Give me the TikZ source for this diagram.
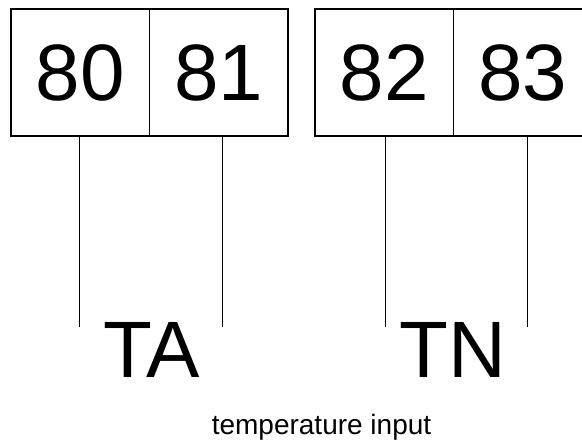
\documentclass[tikz,border=0pt]{standalone}
\usepackage{fontspec}
\setmainfont{Liberation Sans}
\usetikzlibrary{positioning}
\tikzset{
	cell/.style={draw, line width=1pt, outer sep=0pt, minimum width=138.5pt, minimum height=127pt, inner sep=0pt, font=\fontsize{80}{80}\selectfont},
	lead/.style={line width=1pt},
	tag/.style={inner sep=0pt, font=\fontsize{80}{80}\selectfont}
}
\begin{document}
\begin{tikzpicture}[x=1pt,y=-1pt]
	\useasboundingbox (0,0) rectangle (582,443);
	\clip (0,0) rectangle (582,443);
	
	\node[cell] at (80.25,72.5) (c80) {80};
	\node[cell, right=0pt of c80] (c81) {81};
	\draw[line width=2pt] (c80.north west) rectangle (c81.south east);
	
	\node[cell] at (384.25,72.5) (c82) {82};
	\node[cell, right=0pt of c82] (c83) {83};
	\draw[line width=2pt] (c82.north west) rectangle (c83.south east);
	
	\node[tag] at (152,350) (TA) {TA};
	\node[tag] at (453,350) (TN) {TN};
	\node[inner sep=0pt, anchor=base, font=\fontsize{28}{28}\selectfont] at (321.5,435) (temp) {temperature input};
	
	\coordinate (e80) at (79,327);
	\coordinate (e81) at (222,327);
	\coordinate (e82) at (385,327);
	\coordinate (e83) at (527,327);
	\draw[lead] (c80.south -| e80) -- (e80);
	\draw[lead] (c81.south -| e81) -- (e81);
	\draw[lead] (c82.south -| e82) -- (e82);
	\draw[lead] (c83.south -| e83) -- (e83);
\end{tikzpicture}
\end{document}
